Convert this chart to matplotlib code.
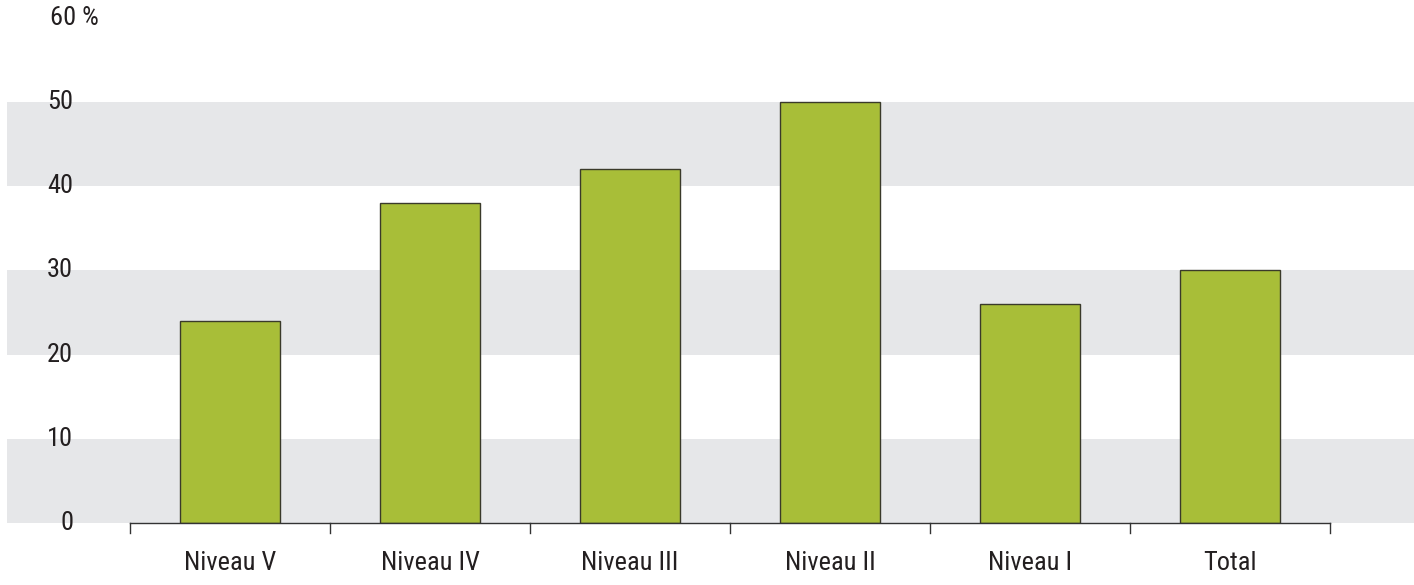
import matplotlib
matplotlib.use("Agg")
import matplotlib.pyplot as plt
import matplotlib.transforms as mtransforms

plt.rcParams['font.family'] = ['Roboto Condensed', 'Liberation Sans Narrow', 'DejaVu Sans']

categories = ['Niveau V', 'Niveau IV', 'Niveau III', 'Niveau II', 'Niveau I', 'Total']
values = [24, 38, 42, 50, 26, 30]
yticks = [0, 10, 20, 30, 40, 50]
bands = [(0, 10), (20, 30), (40, 50)]

W, H = 1414, 585
fig = plt.figure(figsize=(W / 100, H / 100), dpi=100)
# axes spans from x=7px to the right edge, y from 62px (bottom) up
ax = fig.add_axes([7 / W, 62 / H, (W - 7) / W, 505.2 / H])
ax.set_xlim(-1.115, 5.92)
ax.set_ylim(0, 60)
ax.axis('off')

for lo, hi in bands:
    ax.axhspan(lo, hi, color='#e6e7e9', lw=0, zorder=0)

x = list(range(len(categories)))
ax.bar(x, values, width=0.5, color='#a8be38', edgecolor='#3a3a2a', linewidth=1.0, zorder=2)

# baseline with ticks between categories
ax.plot([-0.5, len(categories) - 0.5], [0, 0], color='#333333', lw=1.0, zorder=3, clip_on=False)
tick_trans = mtransforms.blended_transform_factory(ax.transData, ax.transAxes)
for i in range(len(categories) + 1):
    ax.plot([i - 0.5, i - 0.5], [0, -10 / 505.2], color='#333333', lw=1.0,
            transform=tick_trans, clip_on=False)

for i, c in enumerate(categories):
    ax.text(i, -40 / 505.2, c, transform=tick_trans, ha='center', va='center',
            fontsize=19, color='#231f20')

for v in yticks:
    ax.text(-0.785, v, str(v), ha='right', va='center', fontsize=19, color='#231f20')
ax.text(-0.9, 60, '60 %', ha='left', va='center', fontsize=19, color='#231f20', clip_on=False)

fig.savefig('out.png', dpi=100)
